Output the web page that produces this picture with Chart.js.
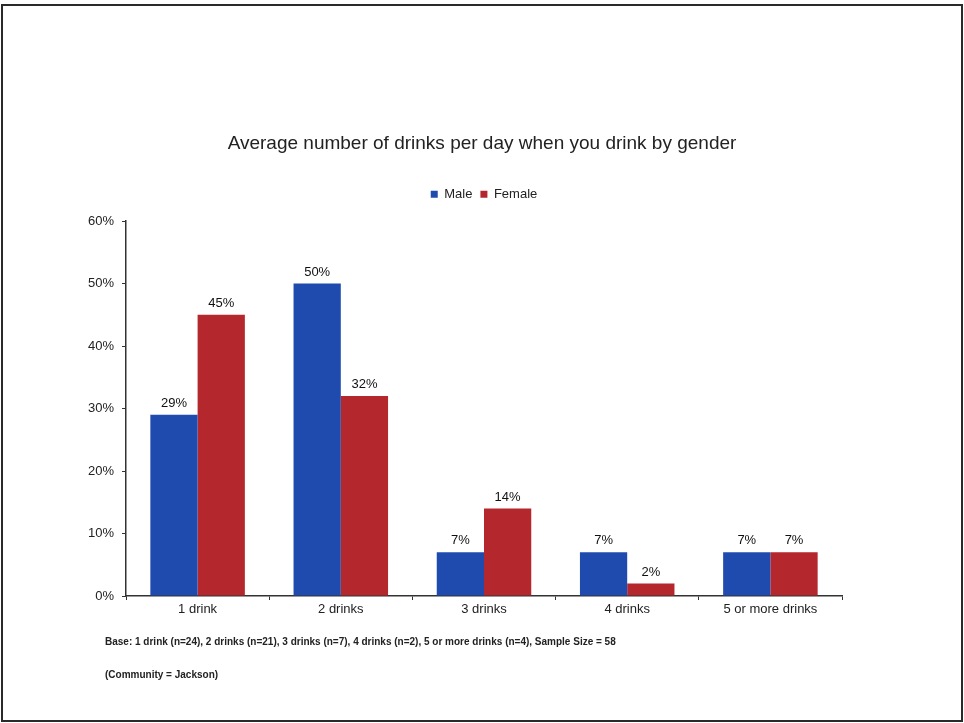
<!DOCTYPE html>
<html>
<head>
<meta charset="utf-8">
<script src="https://cdn.jsdelivr.net/npm/chart.js@4/dist/chart.umd.min.js"></script>
<style>
  html, body { margin: 0; padding: 0; background: #fff; }
  #wrap { position: relative; width: 964px; height: 723px; overflow: hidden; font-family: "Liberation Sans", Arial, sans-serif; }
  #frame { position: absolute; left: 1px; top: 4px; width: 958px; height: 714px; border: 2px solid #2a2a2a; pointer-events: none; }
  canvas { position: absolute; left: 0; top: 0; }
  .note { position: absolute; left: 105px; font-size: 10px; font-weight: bold; color: #222; white-space: nowrap; }
</style>
</head>
<body>
<div id="wrap">
  <canvas id="c" width="964" height="723"></canvas>
  <div class="note" style="top:636px;">Base: 1 drink (n=24), 2 drinks (n=21), 3 drinks (n=7), 4 drinks (n=2), 5 or more drinks (n=4), Sample Size = 58</div>
  <div class="note" style="top:669px;">(Community = Jackson)</div>
  <div id="frame"></div>
</div>
<script>
const categories = ["1 drink", "2 drinks", "3 drinks", "4 drinks", "5 or more drinks"];
const maleValues = [29, 50, 7, 7, 7];
const femaleValues = [45, 32, 14, 2, 7];
const yTicks = [0, 10, 20, 30, 40, 50, 60];
const chartTitle = "Average number of drinks per day when you drink by gender";

const FONT = '"Liberation Sans", Arial, sans-serif';

const valueLabels = {
  id: 'valueLabels',
  afterDatasetsDraw(chart) {
    const ctx = chart.ctx;
    ctx.save();
    ctx.font = '13px ' + FONT;
    ctx.fillStyle = '#111';
    ctx.textAlign = 'center';
    ctx.textBaseline = 'bottom';
    chart.data.datasets.forEach((ds, i) => {
      const meta = chart.getDatasetMeta(i);
      meta.data.forEach((bar, j) => {
        ctx.fillText(ds.data[j] + '%', bar.x, bar.y - 5);
      });
    });
    ctx.restore();
  }
};

new Chart(document.getElementById('c'), {
  type: 'bar',
  data: {
    labels: categories,
    datasets: [
      { label: 'Male', data: maleValues, backgroundColor: '#1f4bae', categoryPercentage: 0.66, barPercentage: 1.0 },
      { label: 'Female', data: femaleValues, backgroundColor: '#b4272d', categoryPercentage: 0.66, barPercentage: 1.0 }
    ]
  },
  options: {
    responsive: false,
    animation: false,
    layout: { padding: { left: 0, right: 0, top: 0, bottom: 0 } },
    plugins: {
      title: {
        display: true,
        text: chartTitle,
        color: '#222',
        font: { family: FONT, size: 19, weight: 'normal' },
        padding: { top: 132, bottom: 25 }
      },
      legend: {
        display: true,
        position: 'top',
        fullSize: false,
        labels: {
          color: '#222',
          font: { family: FONT, size: 13 },
          boxWidth: 7,
          boxHeight: 7,
          padding: 8
        }
      },
      subtitle: {
        display: true,
        text: ' ',
        weight: 500,
        font: { size: 1 },
        padding: { top: 9, bottom: 0 }
      },
      tooltip: { enabled: false }
    },
    scales: {
      x: {
        grid: { display: true, drawOnChartArea: false, offset: true, tickLength: 4, color: '#333' },
        border: { display: true, color: '#333', width: 1.5 },
        ticks: { color: '#222', font: { family: FONT, size: 13 }, padding: 2, maxRotation: 0 },
        afterFit(scale) { scale.height = 127; }
      },
      y: {
        min: 0,
        max: 60,
        afterBuildTicks(scale) { scale.ticks = yTicks.map(v => ({ value: v })); },
        grid: { display: true, drawOnChartArea: false, tickLength: 4, color: '#333' },
        border: { display: true, color: '#333', width: 1.5 },
        ticks: { color: '#222', font: { family: FONT, size: 13 }, padding: 8, callback: v => v + '%' },
        afterFit(scale) { scale.width = 126; }
      },
      yRight: {
        position: 'right',
        display: true,
        min: 0,
        max: 60,
        grid: { display: false },
        border: { display: false },
        ticks: { display: false },
        afterFit(scale) { scale.width = 122; }
      }
    }
  },
  plugins: [valueLabels]
});
</script>
</body>
</html>
